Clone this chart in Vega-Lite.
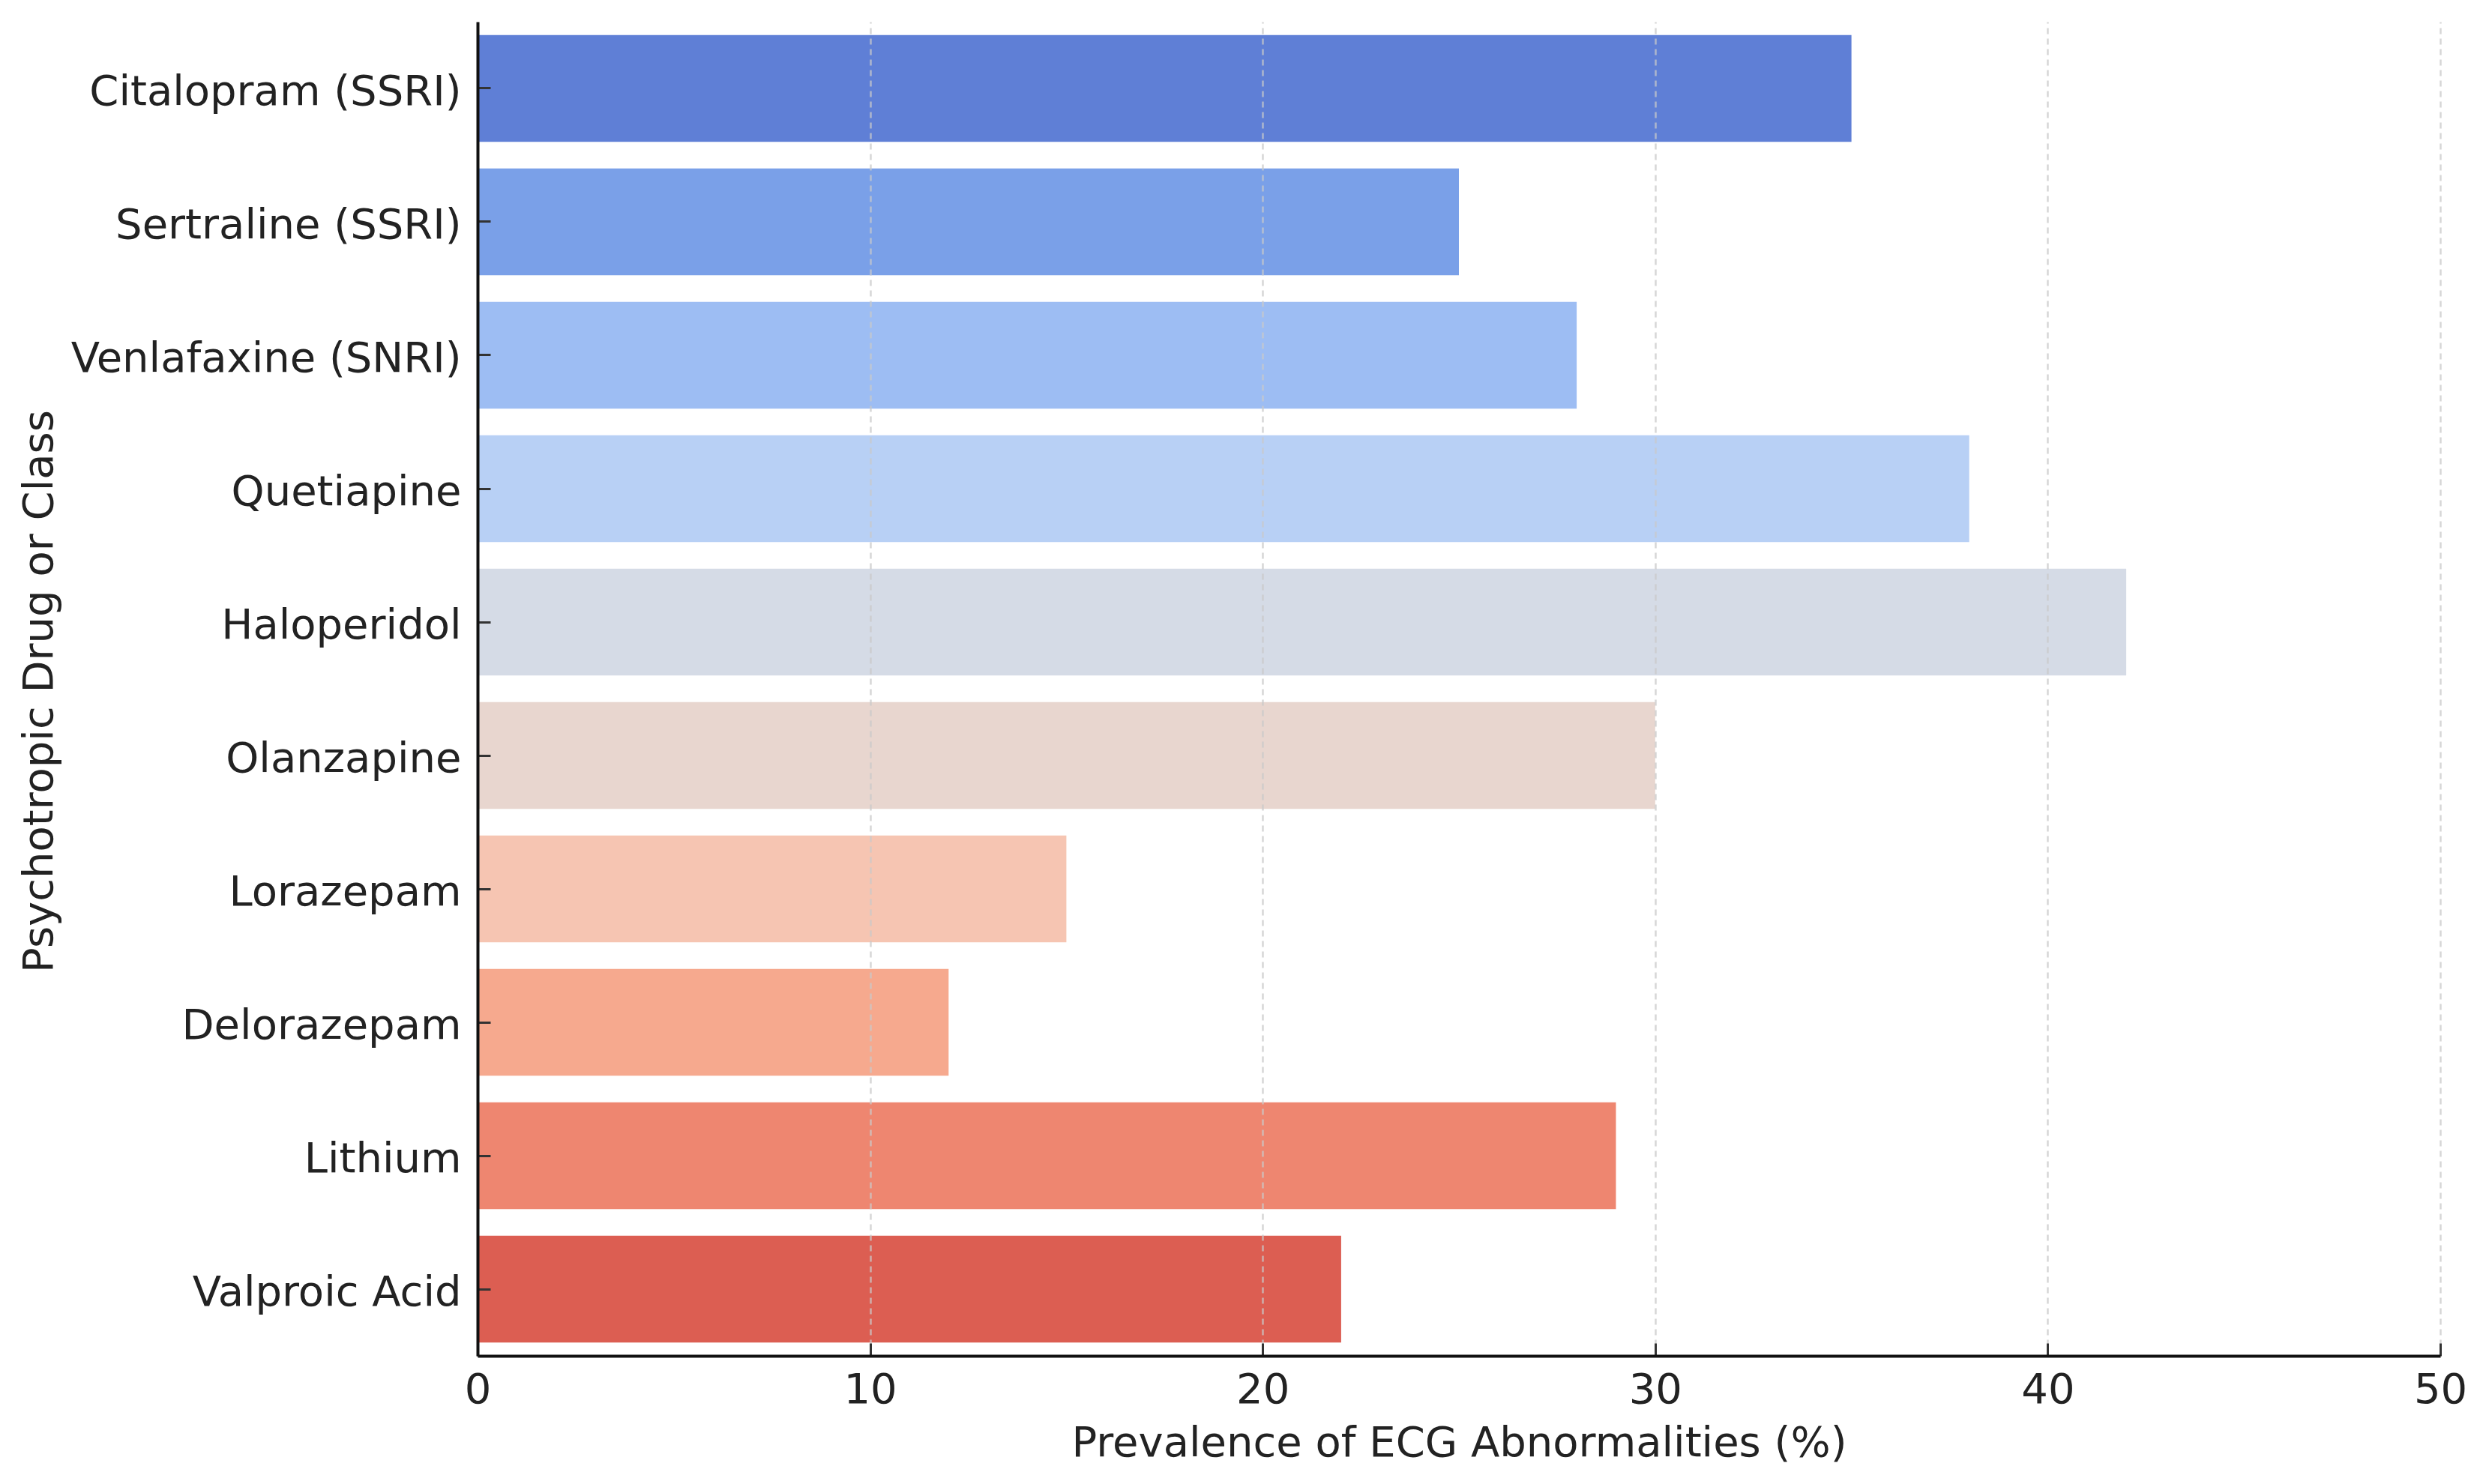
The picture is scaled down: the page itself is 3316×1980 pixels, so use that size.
{
  "$schema": "https://vega.github.io/schema/vega-lite/v6.json",
  "width": 2618,
  "height": 1780,
  "autosize": "none",
  "padding": {"left": 637, "top": 29, "right": 61, "bottom": 171},
  "background": "white",
  "config": {
    "view": {"stroke": null},
    "font": "DejaVu Sans",
    "axis": {
      "labelFont": "DejaVu Sans",
      "titleFont": "DejaVu Sans",
      "labelFontSize": 56,
      "titleFontSize": 56,
      "labelColor": "#222222",
      "titleColor": "#222222",
      "titleFontWeight": "normal",
      "domainColor": "#111111",
      "domainWidth": 4,
      "tickColor": "#333333",
      "tickWidth": 3,
      "tickSize": -17,
      "labelLimit": 0,
      "labelFlush": false
    }
  },
  "data": {
    "values": [
      {"drug": "Citalopram (SSRI)", "prevalence": 35},
      {"drug": "Sertraline (SSRI)", "prevalence": 25},
      {"drug": "Venlafaxine (SNRI)", "prevalence": 28},
      {"drug": "Quetiapine", "prevalence": 38},
      {"drug": "Haloperidol", "prevalence": 42},
      {"drug": "Olanzapine", "prevalence": 30},
      {"drug": "Lorazepam", "prevalence": 15},
      {"drug": "Delorazepam", "prevalence": 12},
      {"drug": "Lithium", "prevalence": 29},
      {"drug": "Valproic Acid", "prevalence": 22}
    ]
  },
  "mark": {"type": "bar"},
  "encoding": {
    "y": {
      "field": "drug",
      "type": "nominal",
      "sort": null,
      "scale": {"paddingInner": 0.2, "paddingOuter": 0.1},
      "axis": {
        "title": "Psychotropic Drug or Class",
        "grid": false,
        "labelPadding": 39,
        "labelOffset": 5,
        "titleX": -568,
        "titleY": 893,
        "titleAngle": -90,
        "titleAlign": "center",
        "titleBaseline": "alphabetic",
        "zindex": 1
      }
    },
    "x": {
      "field": "prevalence",
      "type": "quantitative",
      "scale": {"domain": [0, 50], "nice": false, "zero": true},
      "axis": {
        "title": "Prevalence of ECG Abnormalities (%)",
        "values": [0, 10, 20, 30, 40, 50],
        "grid": true,
        "gridColor": "#c8c8c8",
        "gridOpacity": 0.75,
        "gridWidth": 2.5,
        "gridDash": [8, 6],
        "labelPadding": 35,
        "titlePadding": 16,
        "zindex": 1
      }
    },
    "color": {
      "field": "drug",
      "type": "nominal",
      "legend": null,
      "scale": {
        "domain": ["Citalopram (SSRI)", "Sertraline (SSRI)", "Venlafaxine (SNRI)", "Quetiapine", "Haloperidol", "Olanzapine", "Lorazepam", "Delorazepam", "Lithium", "Valproic Acid"],
        "range": ["#5f7fd6", "#7aa0e8", "#9dbdf3", "#b8d0f5", "#d5dbe6", "#e8d6cf", "#f6c5b2", "#f6a98e", "#ee8670", "#dc5e52"]
      }
    }
  }
}
